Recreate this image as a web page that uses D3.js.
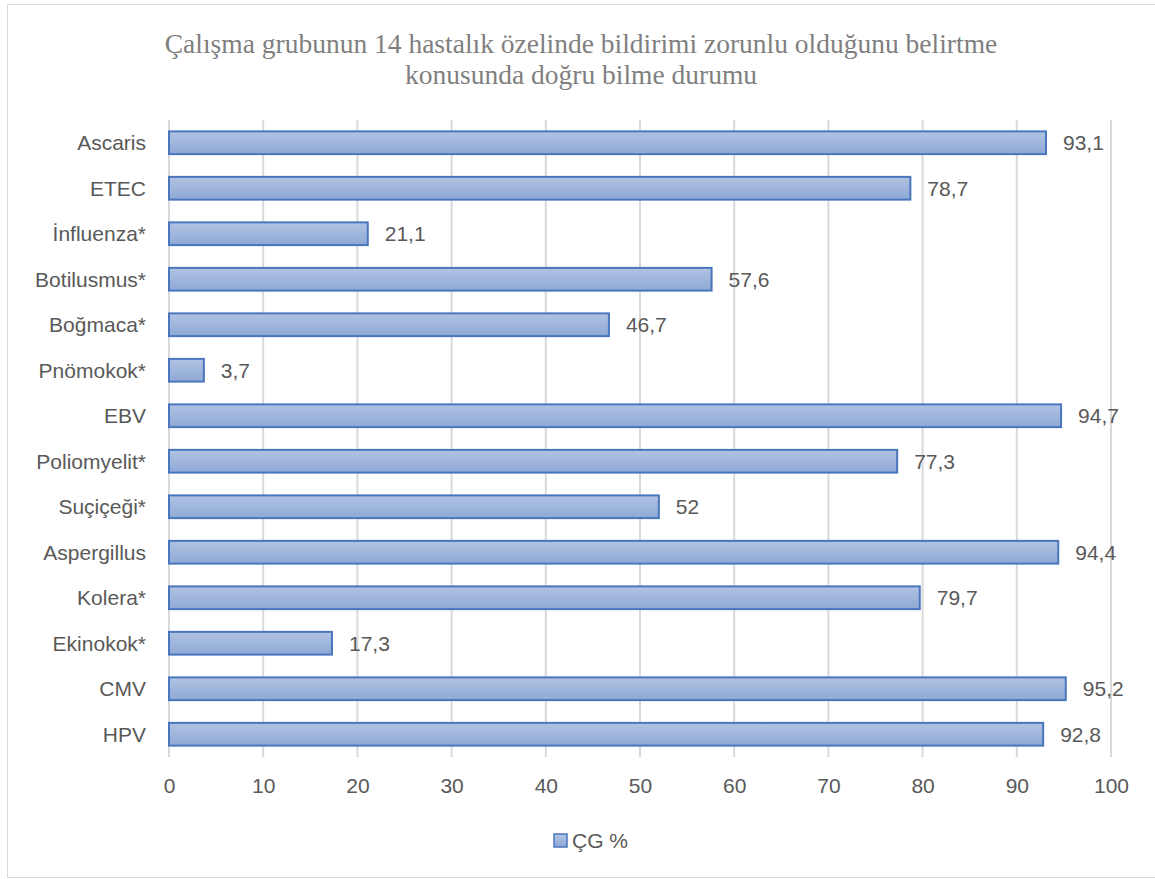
<!DOCTYPE html>
<html>
<head>
<meta charset="utf-8">
<script src="https://cdn.jsdelivr.net/npm/d3@7"></script>
<style>
  body { margin: 0; background: #fff; }
  svg { display: block; }
</style>
</head>
<body>
<div id="vis"></div>
<script>
var categories = ["Ascaris", "ETEC", "İnfluenza*", "Botilusmus*", "Boğmaca*", "Pnömokok*", "EBV",
                  "Poliomyelit*", "Suçiçeği*", "Aspergillus", "Kolera*", "Ekinokok*", "CMV", "HPV"];
var values = [93.1, 78.7, 21.1, 57.6, 46.7, 3.7, 94.7, 77.3, 52, 94.4, 79.7, 17.3, 95.2, 92.8];
var valueLabels = ["93,1", "78,7", "21,1", "57,6", "46,7", "3,7", "94,7", "77,3", "52", "94,4", "79,7", "17,3", "95,2", "92,8"];
var xTicks = [0, 10, 20, 30, 40, 50, 60, 70, 80, 90, 100];
var titleLines = ["Çalışma grubunun 14 hastalık özelinde bildirimi zorunlu olduğunu belirtme",
                  "konusunda doğru bilme durumu"];
var seriesName = "ÇG %";

var w = 1155, h = 879;
var textColor = "#595959";
var labelFont = "'Liberation Sans', Arial, sans-serif";
var labelSize = 21;

var svg = d3.select("#vis").append("svg")
    .attr("width", w)
    .attr("height", h);

// outer frame
svg.append("rect")
    .attr("x", 7.5).attr("y", 4.5)
    .attr("width", w + 10).attr("height", 873)
    .attr("fill", "#fff")
    .attr("stroke", "#d9d9d9");

var defs = svg.append("defs");
var grad = defs.append("linearGradient")
    .attr("id", "barGrad")
    .attr("x1", 0).attr("y1", 0).attr("x2", 0).attr("y2", 1);
grad.append("stop").attr("offset", "0%").attr("stop-color", "#b1c3e2");
grad.append("stop").attr("offset", "100%").attr("stop-color", "#8ea9d6");

var x = d3.scaleLinear().domain([0, 100]).range([169, 1111]);
var y = d3.scaleBand().domain(categories).range([120, 757]).paddingInner(0.5).paddingOuter(0.25);

// title
svg.append("g").selectAll("text")
    .data(titleLines)
    .enter()
    .append("text")
    .attr("x", 581)
    .attr("y", function(d, i){ return 53 + i * 31; })
    .attr("text-anchor", "middle")
    .attr("font-family", "'Liberation Serif', 'Times New Roman', serif")
    .attr("font-size", 27.5)
    .attr("fill", "#7f7f7f")
    .text(function(d){ return d; });

// gridlines
svg.append("g").selectAll("line")
    .data(xTicks)
    .enter()
    .append("line")
    .attr("x1", function(d){ return x(d); })
    .attr("x2", function(d){ return x(d); })
    .attr("y1", 120)
    .attr("y2", 757)
    .attr("stroke", "#d9d9d9")
    .attr("stroke-width", 2);

// x axis tick labels
var xAxis = d3.axisBottom(x).tickValues(xTicks).tickSize(0).tickPadding(0);
var gx = svg.append("g")
    .attr("transform", "translate(0,786)")
    .call(xAxis);
gx.select(".domain").remove();
gx.selectAll("text")
    .attr("font-family", labelFont)
    .attr("font-size", labelSize)
    .attr("fill", textColor)
    .attr("dy", "0.35em");

// category labels
var yAxis = d3.axisLeft(y).tickSize(0).tickPadding(0);
var gy = svg.append("g")
    .attr("transform", "translate(146,0)")
    .call(yAxis);
gy.select(".domain").remove();
gy.selectAll("text")
    .attr("font-family", labelFont)
    .attr("font-size", labelSize)
    .attr("fill", textColor)
    .attr("dy", "0.35em");

// bars
svg.append("g").selectAll("rect")
    .data(values)
    .enter()
    .append("rect")
    .attr("x", x(0))
    .attr("y", function(d, i){ return y(categories[i]); })
    .attr("width", function(d){ return x(d) - x(0); })
    .attr("height", y.bandwidth())
    .attr("fill", "url(#barGrad)")
    .attr("stroke", "#4a76bd")
    .attr("stroke-width", 2);

// value labels
svg.append("g").selectAll("text")
    .data(values)
    .enter()
    .append("text")
    .attr("x", function(d){ return x(d) + 17; })
    .attr("y", function(d, i){ return y(categories[i]) + y.bandwidth() / 2; })
    .attr("dy", "0.35em")
    .attr("font-family", labelFont)
    .attr("font-size", labelSize)
    .attr("fill", textColor)
    .text(function(d, i){ return valueLabels[i]; });

// legend
var legend = svg.append("g").attr("transform", "translate(554,834)");
legend.append("rect")
    .attr("width", 13).attr("height", 13)
    .attr("fill", "url(#barGrad)")
    .attr("stroke", "#4a76bd")
    .attr("stroke-width", 1.5);
legend.append("text")
    .attr("x", 18).attr("y", 7)
    .attr("dy", "0.35em")
    .attr("font-family", labelFont)
    .attr("font-size", labelSize)
    .attr("fill", textColor)
    .text(seriesName);
</script>
</body>
</html>
